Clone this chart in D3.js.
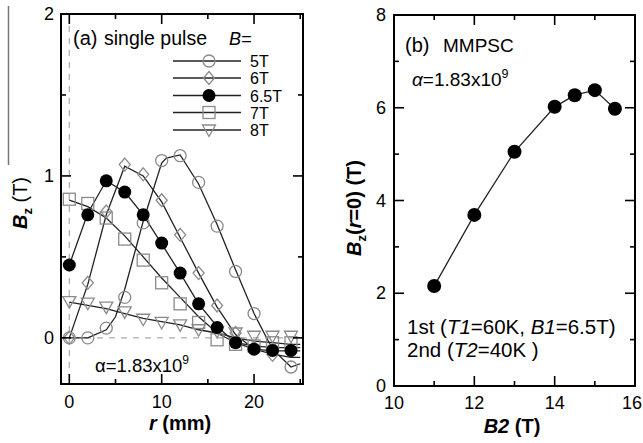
<!DOCTYPE html>
<html><head><meta charset="utf-8">
<script src="https://cdn.jsdelivr.net/npm/d3@7"></script>
<style>
body{margin:0;background:#fff;}
svg{display:block;font-family:"Liberation Sans",Arial,Helvetica,sans-serif;}
</style></head>
<body><svg id="c" width="643" height="443"></svg>
<script>
// ---------- Data: panel (a) ----------
const rPoints = [0,2,4,6,8,10,12,14,16,18,20,22,24];
const seriesNames = ["5T","6T","6.5T","7T","8T"];
const bz5T  = [0.0,0.0,0.06,0.25,0.71,1.095,1.125,0.96,0.69,0.41,0.15,-0.074,-0.18];
const bz6T  = [0.0,0.34,0.78,1.07,1.01,0.85,0.636,0.40,0.20,0.03,-0.06,-0.105,-0.07];
const bz65T = [0.45,0.76,0.97,0.90,0.76,0.585,0.40,0.21,0.064,-0.03,-0.07,-0.078,-0.078];
const bz7T  = [0.856,0.83,0.74,0.61,0.48,0.34,0.21,0.095,-0.012,-0.04,-0.05,-0.03,-0.03];
const bz8T  = [0.224,0.214,0.19,0.16,0.115,0.095,0.08,0.05,0.04,0.03,0.01,0.01,0.01];
// simulated curves (r in mm, Bz in T)
const curve5T  = [[0,0],[2,0],[4,0.05],[5,0.13],[6,0.3],[8,0.72],[10,1.08],[10.5,1.11],[12,1.13],[14,0.95],[16,0.7],[18,0.42],[20,0.15],[22,-0.07],[24,-0.18],[25,-0.16]];
const curve6T  = [[0,0],[2,0.33],[4,0.76],[6,1.06],[8,1.0],[10,0.84],[12,0.62],[14,0.40],[16,0.19],[18,0.02],[20,-0.07],[22,-0.1],[24,-0.12],[25,-0.12]];
const curve65T = [[0,0.45],[2,0.77],[4,0.97],[6,0.9],[8,0.76],[10,0.58],[12,0.4],[14,0.21],[16,0.07],[18,-0.03],[20,-0.07],[22,-0.08],[24,-0.08],[25,-0.08]];
const curve7T  = [[0,0.85],[2,0.81],[4,0.74],[6,0.63],[8,0.5],[10,0.37],[12,0.25],[14,0.13],[16,0.03],[18,-0.03],[20,-0.05],[22,-0.06],[24,-0.06],[25,-0.06]];
const curve8T  = [[0,0.22],[2,0.2],[4,0.18],[6,0.15],[8,0.12],[10,0.1],[12,0.08],[14,0.05],[16,0.03],[18,0.0],[20,-0.02],[22,-0.03],[24,-0.04],[25,-0.04]];
const aXTicks = [0,10,20];
const aYTicks = [0,1,2];

// ---------- Data: panel (b) ----------
const b2Values = [11,12,13,14,14.5,15,15.5];
const bzCenter = [2.155,3.69,5.05,6.02,6.27,6.38,5.98];
const bXTicks = [10,12,14,16];
const bYTicks = [0,2,4,6,8];

const svg = d3.select("#c");

// stray rule at far left of the figure
svg.append("line").attr("x1",8.5).attr("x2",8.5).attr("y1",6).attr("y2",165)
  .attr("stroke","#777").attr("stroke-width",1.5);

function frame(g, x, y, xMaj, xMin, yMaj, yMin){
  const [x0,x1] = x.range(), [y0,y1] = y.range();
  const M = 10, m = 5;
  const tk = (a,b,c,d)=>g.append("line").attr("x1",a).attr("y1",b).attr("x2",c).attr("y2",d).attr("stroke","#000").attr("stroke-width",1.6);
  xMaj.forEach(v=>{ tk(x(v),y0,x(v),y0-M); tk(x(v),y1,x(v),y1+M); });
  xMin.forEach(v=>{ tk(x(v),y0,x(v),y0-m); tk(x(v),y1,x(v),y1+m); });
  yMaj.forEach(v=>{ tk(x0,y(v),x0+M,y(v)); tk(x1,y(v),x1-M,y(v)); });
  yMin.forEach(v=>{ tk(x0,y(v),x0+m,y(v)); tk(x1,y(v),x1-m,y(v)); });
  g.append("rect").attr("x",x0).attr("y",y1).attr("width",x1-x0).attr("height",y0-y1)
    .attr("fill","none").attr("stroke","#000").attr("stroke-width",2);
}

// ================= Panel (a) =================
const xa = d3.scaleLinear().domain([-0.9,25.3]).range([61,303]);
const ya = d3.scaleLinear().domain([-0.285,2]).range([384,14]);
const ga = svg.append("g");

// dashed reference lines
ga.append("line").attr("x1",xa(0)).attr("x2",xa(0)).attr("y1",ya(2)).attr("y2",ya(-0.285))
  .attr("stroke","#aaa").attr("stroke-width",1.2).attr("stroke-dasharray","6,6");
ga.append("line").attr("x1",xa(-0.9)).attr("x2",xa(25.3)).attr("y1",ya(0)).attr("y2",ya(0))
  .attr("stroke","#aaa").attr("stroke-width",1.2).attr("stroke-dasharray","6,6");

const curves = [curve5T,curve6T,curve65T,curve7T,curve8T];
const pts = [bz5T,bz6T,bz65T,bz7T,bz8T];
const lineA = d3.line().x(d=>xa(d[0])).y(d=>ya(d[1]));
svg.append("defs").append("clipPath").attr("id","ca").append("rect")
  .attr("x",61).attr("y",14).attr("width",242).attr("height",370);
curves.forEach(c=>{
  ga.append("path").attr("d",lineA(c)).attr("fill","none").attr("stroke","#222").attr("stroke-width",1.3).attr("clip-path","url(#ca)");
});

const GR = "#8a8a8a";
function marker(g, type, cx, cy){
  if(type===0) g.append("circle").attr("cx",cx).attr("cy",cy).attr("r",6).attr("fill","none").attr("stroke",GR).attr("stroke-width",1.3);
  else if(type===1) g.append("path").attr("d",`M${cx},${cy-6.5}L${cx+5.5},${cy}L${cx},${cy+6.5}L${cx-5.5},${cy}Z`).attr("fill","none").attr("stroke",GR).attr("stroke-width",1.3);
  else if(type===2) g.append("circle").attr("cx",cx).attr("cy",cy).attr("r",6.5).attr("fill","#000");
  else if(type===3) g.append("rect").attr("x",cx-6).attr("y",cy-6).attr("width",12).attr("height",12).attr("fill","none").attr("stroke",GR).attr("stroke-width",1.3);
  else g.append("path").attr("d",`M${cx-6.5},${cy-5}L${cx+6.5},${cy-5}L${cx},${cy+6.5}Z`).attr("fill","none").attr("stroke",GR).attr("stroke-width",1.3);
}
[0,1,3,4,2].forEach(s=>{
  pts[s].forEach((v,i)=>marker(ga, s, xa(rPoints[i]), ya(v)));
});

frame(ga, xa, ya, aXTicks, [5,15,25], aYTicks, [0.5,1.5]);

// tick labels
aXTicks.forEach(v=>ga.append("text").attr("x",xa(v)).attr("y",408).attr("text-anchor","middle").attr("font-size",18).text(v));
aYTicks.forEach(v=>ga.append("text").attr("x",54).attr("y",ya(v)+6).attr("text-anchor","end").attr("font-size",18).text(v));

// axis titles
const xt = ga.append("text").attr("x",180).attr("y",430).attr("text-anchor","middle").attr("font-size",20).attr("font-weight","bold");
xt.append("tspan").attr("font-style","italic").text("r");
xt.append("tspan").text(" (mm)");
const yt = ga.append("text").attr("transform","translate(27,203) rotate(-90)").attr("text-anchor","middle").attr("font-size",20).attr("font-weight","bold");
yt.append("tspan").attr("font-style","italic").text("B");
yt.append("tspan").attr("font-size",13).attr("dy",5).text("z");
yt.append("tspan").attr("dy",-5).attr("font-weight","normal").text(" (T)");

// annotations
ga.append("text").attr("x",73).attr("y",45).attr("font-size",20).text("(a)");
ga.append("text").attr("x",104).attr("y",45).attr("font-size",19.5).text("single pulse");
ga.append("text").attr("x",229).attr("y",45).attr("font-size",18).attr("font-style","italic").text("B=");
const al = ga.append("text").attr("x",95).attr("y",372).attr("font-size",18.5);
al.append("tspan").text("α=1.83x10");
al.append("tspan").attr("font-size",12).attr("dy",-8).text("9");

// legend
const legY = [61,78,95.5,112.5,130];
seriesNames.forEach((n,i)=>{
  ga.append("line").attr("x1",173).attr("x2",241).attr("y1",legY[i]).attr("y2",legY[i]).attr("stroke","#222").attr("stroke-width",1.3);
  marker(ga, i, 209, legY[i]);
  ga.append("text").attr("x",250).attr("y",legY[i]+6).attr("font-size",16).text(n);
});

// ================= Panel (b) =================
const xb = d3.scaleLinear().domain([10,16]).range([394,635]);
const yb = d3.scaleLinear().domain([0,8]).range([386,15]);
const gb = svg.append("g");
const lineB = d3.line().x((d,i)=>xb(b2Values[i])).y(d=>yb(d));
gb.append("path").attr("d",lineB(bzCenter)).attr("fill","none").attr("stroke","#222").attr("stroke-width",1.3);
bzCenter.forEach((v,i)=>gb.append("circle").attr("cx",xb(b2Values[i])).attr("cy",yb(v)).attr("r",7).attr("fill","#000"));

frame(gb, xb, yb, bXTicks, [11,13,15], bYTicks, [1,3,5,7]);
bXTicks.forEach(v=>gb.append("text").attr("x",v===16?642:xb(v)).attr("y",409).attr("text-anchor",v===16?"end":"middle").attr("font-size",18).text(v));
bYTicks.forEach(v=>gb.append("text").attr("x",386).attr("y",yb(v)+6).attr("text-anchor","end").attr("font-size",18).text(v));

const xt2 = gb.append("text").attr("x",512).attr("y",433).attr("text-anchor","middle").attr("font-size",20).attr("font-weight","bold");
xt2.append("tspan").attr("font-style","italic").text("B2");
xt2.append("tspan").text(" (T)");
const yt2 = gb.append("text").attr("transform","translate(361,208) rotate(-90)").attr("text-anchor","middle").attr("font-size",20).attr("font-weight","bold");
yt2.append("tspan").attr("font-style","italic").text("B");
yt2.append("tspan").attr("font-size",13).attr("dy",5).text("z");
yt2.append("tspan").attr("dy",-5).text("(");
yt2.append("tspan").attr("font-style","italic").text("r");
yt2.append("tspan").text("=0) (T)");

gb.append("text").attr("x",405).attr("y",52).attr("font-size",20).text("(b)");
gb.append("text").attr("x",443).attr("y",52).attr("font-size",19).text("MMPSC");
const al2 = gb.append("text").attr("x",412).attr("y",86).attr("font-size",19);
al2.append("tspan").attr("font-style","italic").text("α");
al2.append("tspan").text("=1.83x10");
al2.append("tspan").attr("font-size",12.5).attr("dy",-8).text("9");

const t1 = gb.append("text").attr("x",407).attr("y",334).attr("font-size",20.5);
t1.append("tspan").text("1st (");
t1.append("tspan").attr("font-style","italic").text("T1");
t1.append("tspan").text("=60K, ");
t1.append("tspan").attr("font-style","italic").text("B1");
t1.append("tspan").text("=6.5T)");
const t2 = gb.append("text").attr("x",407).attr("y",357).attr("font-size",20.5);
t2.append("tspan").text("2nd (");
t2.append("tspan").attr("font-style","italic").text("T2");
t2.append("tspan").text("=40K )");
</script></body></html>
